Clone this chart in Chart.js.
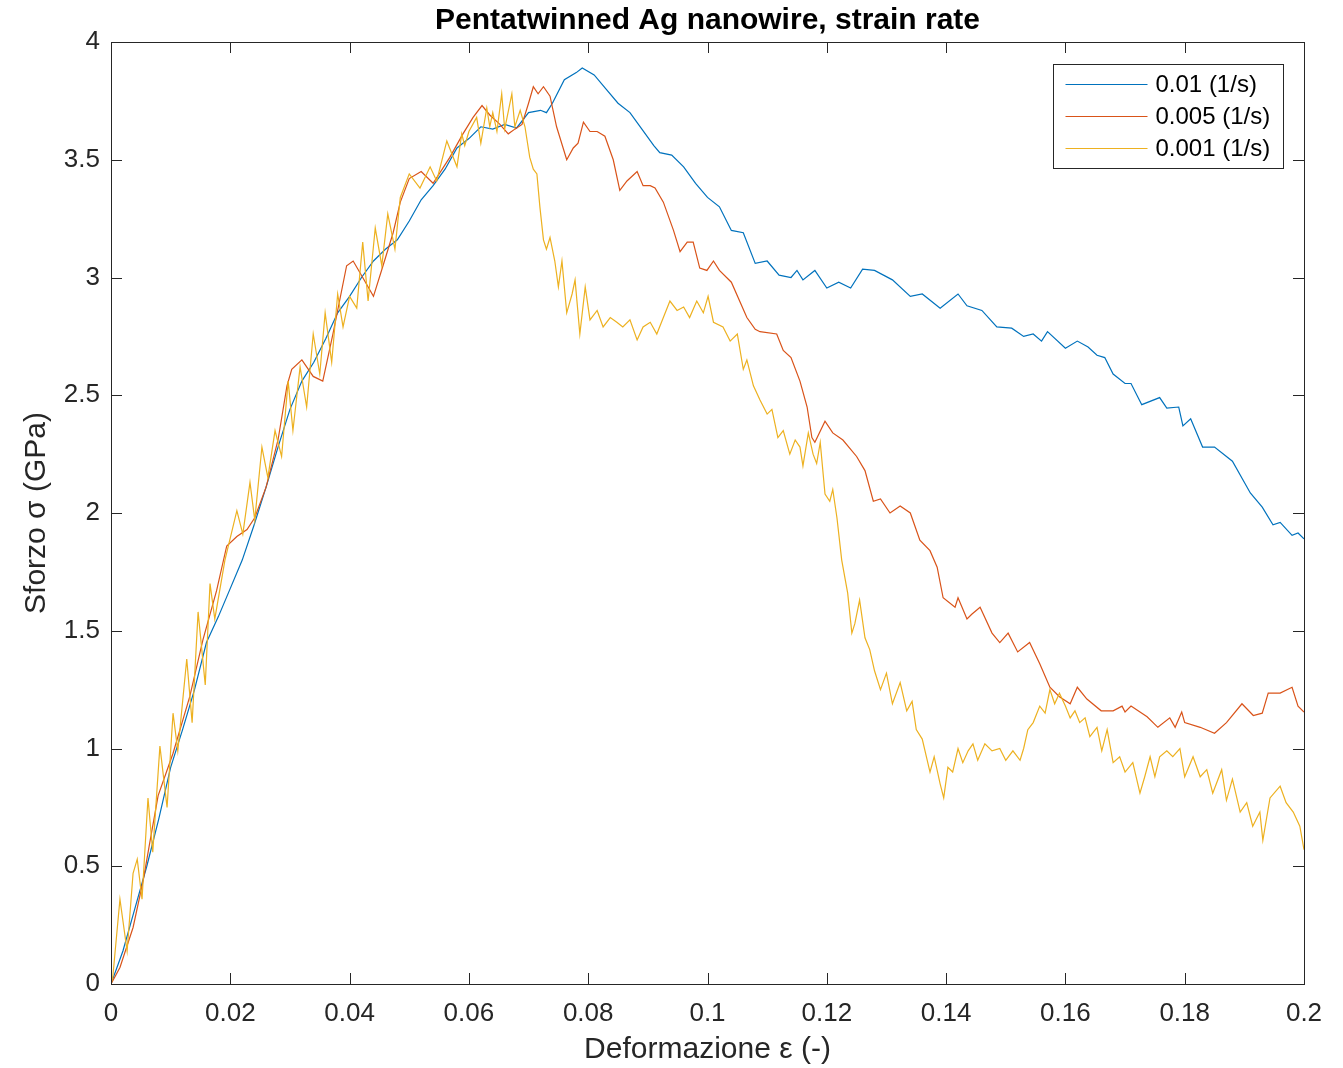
<!DOCTYPE html>
<html>
<head>
<meta charset="utf-8">
<title>Pentatwinned Ag nanowire, strain rate</title>
<script src="https://cdn.jsdelivr.net/npm/chart.js@4.4.1/dist/chart.umd.min.js"></script>
<style>
  html, body { margin: 0; padding: 0; background: #fff; }
</style>
</head>
<body>
<canvas id="stressChart" width="1343" height="1068"></canvas>
<script>
// curve 0.01 (1/s)
const strainFast = [0,0.002,0.004,0.006,0.008,0.010,0.012,0.014,0.016,0.018,
  0.020,0.022,0.024,0.026,0.028,0.030,0.032,0.034,0.036,0.038,
  0.040,0.042,0.044,0.046,0.048,0.050,0.052,0.054,0.056,0.058,
  0.060,0.062,0.064,0.066,0.068,0.070,0.072,0.073,0.074,0.076,
  0.078,0.079,0.081,0.083,0.085,0.087,0.089,0.091,0.092,0.094,
  0.096,0.098,0.100,0.102,0.104,0.106,0.108,0.110,0.112,0.114,
  0.115,0.116,0.118,0.120,0.122,0.124,0.126,0.128,0.131,0.134,
  0.136,0.139,0.142,0.1435,0.146,0.1485,0.151,0.153,0.1546,0.156,
  0.157,0.160,0.162,0.1638,0.1653,0.1666,0.168,0.170,0.171,0.1728,
  0.1758,0.177,0.179,0.1797,0.181,0.183,0.185,0.188,0.191,0.193,
  0.1948,0.196,0.198,0.199,0.200];
const stressFast = [0,0.14,0.32,0.50,0.70,0.92,1.08,1.25,1.45,1.56,
  1.68,1.80,1.95,2.11,2.28,2.44,2.56,2.64,2.74,2.85,
  2.92,3.00,3.07,3.12,3.16,3.24,3.33,3.39,3.46,3.55,
  3.59,3.64,3.63,3.65,3.635,3.70,3.71,3.70,3.74,3.84,
  3.87,3.89,3.86,3.80,3.74,3.70,3.63,3.56,3.53,3.52,
  3.47,3.40,3.34,3.30,3.20,3.19,3.06,3.07,3.01,3.00,
  3.03,2.99,3.03,2.955,2.98,2.955,3.035,3.03,2.99,2.92,
  2.93,2.87,2.93,2.88,2.86,2.79,2.785,2.75,2.76,2.73,
  2.77,2.70,2.73,2.705,2.67,2.66,2.59,2.55,2.55,2.46,
  2.49,2.445,2.45,2.37,2.40,2.28,2.28,2.22,2.085,2.025,
  1.95,1.96,1.905,1.915,1.89];

// curve 0.005 (1/s)
const strainMid = [0,0.0015,0.0037,0.0054,0.0065,0.0079,0.0104,0.0132,0.0154,0.0177,
  0.0194,0.0211,0.0228,0.0241,0.026,0.028,0.0295,0.0303,0.032,0.0339,
  0.0355,0.0372,0.0395,0.0406,0.0422,0.044,0.0456,0.0473,0.0485,0.050,
  0.052,0.054,0.0568,0.059,0.0607,0.0622,0.0635,0.0652,0.0666,0.0677,
  0.0689,0.070,0.0708,0.0716,0.0725,0.0736,0.0747,0.0764,0.0775,0.0783,
  0.0792,0.0803,0.0815,0.0828,0.0842,0.0853,0.0865,0.0882,0.0892,0.0904,
  0.0912,0.0926,0.0943,0.0954,0.0966,0.0976,0.0987,0.0999,0.101,0.102,
  0.104,0.1066,0.108,0.1088,0.1116,0.1127,0.114,0.1155,0.1167,0.1175,
  0.118,0.1197,0.121,0.1227,0.125,0.1264,0.1278,0.129,0.1306,0.1323,
  0.134,0.1356,0.1373,0.1385,0.1395,0.1415,0.142,0.1435,0.1443,0.1457,
  0.1477,0.149,0.1504,0.152,0.154,0.1557,0.1574,0.159,0.1608,0.162,
  0.1636,0.166,0.168,0.1695,0.170,0.171,0.1737,0.1755,0.1775,0.1784,
  0.1795,0.180,0.1826,0.185,0.187,0.1896,0.1915,0.193,0.194,0.196,
  0.198,0.199,0.2];
const stressMid = [0,0.07,0.24,0.44,0.60,0.80,0.98,1.22,1.46,1.67,
  1.86,1.90,1.93,1.98,2.11,2.31,2.54,2.61,2.65,2.58,
  2.56,2.76,3.05,3.07,3.00,2.92,3.05,3.19,3.32,3.42,
  3.45,3.40,3.51,3.61,3.68,3.73,3.69,3.65,3.61,3.63,
  3.65,3.74,3.81,3.78,3.81,3.77,3.64,3.50,3.55,3.57,
  3.66,3.62,3.62,3.60,3.50,3.37,3.41,3.45,3.39,3.39,
  3.38,3.32,3.20,3.11,3.15,3.15,3.04,3.03,3.07,3.03,
  2.98,2.83,2.78,2.77,2.76,2.69,2.66,2.56,2.45,2.32,
  2.30,2.39,2.34,2.31,2.24,2.18,2.05,2.06,2.00,2.03,
  2.00,1.885,1.84,1.77,1.64,1.60,1.64,1.55,1.57,1.60,
  1.49,1.45,1.49,1.41,1.45,1.36,1.26,1.22,1.19,1.26,
  1.21,1.16,1.16,1.18,1.155,1.18,1.135,1.09,1.13,1.09,
  1.155,1.11,1.09,1.065,1.11,1.19,1.14,1.15,1.235,1.235,
  1.26,1.18,1.155];

// curve 0.001 (1/s)
const strainSlow = [0,0.0003,0.0015,0.0027,0.0037,0.0044,0.0052,0.0062,0.007,0.0082,
  0.0094,0.0104,0.0112,0.0127,0.0136,0.0146,0.0158,0.0166,0.0174,0.0191,
  0.0211,0.0221,0.0233,0.0241,0.0253,0.0263,0.0275,0.0286,0.0297,0.0305,
  0.0317,0.0328,0.0339,0.035,0.0359,0.037,0.038,0.0389,0.040,0.0412,
  0.0422,0.0431,0.0443,0.0454,0.0464,0.0476,0.0485,0.050,0.0518,0.0535,
  0.0546,0.0563,0.058,0.0588,0.0593,0.060,0.0613,0.062,0.063,0.0635,
  0.064,0.0647,0.0655,0.066,0.0672,0.0677,0.0686,0.0694,0.0702,0.0708,
  0.0714,0.0719,0.0725,0.073,0.0736,0.0744,0.075,0.0756,0.0764,0.0773,
  0.0778,0.0786,0.0795,0.0803,0.0815,0.0825,0.0837,0.0848,0.0858,0.087,
  0.0882,0.0892,0.0904,0.0915,0.0926,0.0937,0.0949,0.096,0.097,0.0982,
  0.0993,0.1001,0.101,0.1026,0.1038,0.105,0.106,0.1066,0.1077,0.1088,
  0.11,0.1108,0.1118,0.1127,0.1138,0.1147,0.1155,0.116,0.1169,0.1177,
  0.1183,0.1189,0.1197,0.1205,0.121,0.1217,0.1225,0.1235,0.1242,0.1247,
  0.1255,0.1264,0.1272,0.128,0.129,0.130,0.131,0.1323,0.1334,0.1343,
  0.135,0.136,0.1373,0.138,0.139,0.1396,0.1403,0.1411,0.142,0.1428,
  0.1437,0.1445,0.1453,0.1465,0.1477,0.149,0.150,0.1512,0.1524,0.153,
  0.1537,0.1546,0.1557,0.1566,0.1574,0.1582,0.159,0.16,0.1608,0.1616,
  0.1624,0.1633,0.1641,0.1653,0.1661,0.167,0.168,0.1691,0.170,0.1713,
  0.1725,0.1733,0.1742,0.175,0.1758,0.177,0.178,0.1792,0.180,0.1814,
  0.1826,0.1837,0.1847,0.1862,0.187,0.188,0.1893,0.1904,0.1914,0.1926,
  0.1931,0.1943,0.196,0.197,0.1982,0.1993,0.2];
const stressSlow = [0,0.03,0.36,0.14,0.47,0.53,0.36,0.79,0.56,1.01,
  0.75,1.15,0.99,1.38,1.11,1.58,1.27,1.70,1.55,1.80,
  2.01,1.91,2.13,1.97,2.28,2.15,2.35,2.24,2.56,2.35,
  2.62,2.45,2.76,2.59,2.85,2.64,2.93,2.79,2.92,2.87,
  3.15,2.90,3.21,3.05,3.27,3.12,3.34,3.44,3.38,3.47,
  3.41,3.58,3.47,3.61,3.56,3.62,3.68,3.57,3.72,3.64,
  3.70,3.62,3.78,3.63,3.78,3.64,3.71,3.64,3.51,3.46,
  3.44,3.30,3.16,3.12,3.17,3.07,2.96,3.07,2.85,2.93,
  2.99,2.76,2.96,2.82,2.86,2.79,2.83,2.81,2.79,2.82,
  2.735,2.79,2.81,2.76,2.83,2.90,2.86,2.875,2.83,2.90,
  2.85,2.92,2.81,2.79,2.73,2.76,2.61,2.65,2.54,2.48,
  2.42,2.44,2.32,2.35,2.25,2.31,2.28,2.20,2.34,2.25,
  2.21,2.30,2.08,2.05,2.10,1.98,1.80,1.66,1.49,1.53,
  1.63,1.47,1.42,1.33,1.25,1.32,1.19,1.28,1.16,1.20,
  1.08,1.04,0.90,0.965,0.85,0.79,0.92,0.90,1.00,0.94,
  0.99,1.02,0.95,1.02,0.99,1.00,0.95,0.99,0.95,1.00,
  1.08,1.11,1.18,1.15,1.25,1.19,1.235,1.18,1.13,1.16,
  1.11,1.13,1.05,1.09,0.99,1.08,0.94,0.965,0.90,0.94,
  0.81,0.88,0.965,0.88,0.965,0.99,0.965,1.00,0.88,0.965,
  0.88,0.91,0.81,0.91,0.78,0.87,0.73,0.77,0.67,0.73,
  0.61,0.79,0.84,0.77,0.73,0.67,0.57];

const chartTitle = 'Pentatwinned Ag nanowire, strain rate';
const rateLabels = ['0.01 (1/s)', '0.005 (1/s)', '0.001 (1/s)'];
const strainTicks = ['0','0.02','0.04','0.06','0.08','0.1','0.12','0.14','0.16','0.18','0.2'];
const stressTicks = ['0','0.5','1','1.5','2','2.5','3','3.5','4'];

const AXIS_COLOR = '#262626';
const FONT = '"Liberation Sans", Arial, Helvetica, sans-serif';
Chart.defaults.font.family = FONT;
Chart.defaults.color = AXIS_COLOR;

function toPoints(xs, ys) {
    return xs.map((x, i) => ({ x: x, y: ys[i] }));
}

// title over the axes, box around them, inward ticks on all four sides, legend box
const matlabFrame = {
    id: 'matlabFrame',
    afterDatasetsDraw(chart) {
        const { ctx, chartArea: a, scales } = chart;
        const tl = 11;
        ctx.save();

        ctx.fillStyle = '#000';
        ctx.font = 'bold 30px ' + FONT;
        ctx.textAlign = 'center';
        ctx.textBaseline = 'middle';
        ctx.fillText(chartTitle, (a.left + a.right) / 2, a.top - 21);

        ctx.strokeStyle = AXIS_COLOR;
        ctx.lineWidth = 1;
        ctx.strokeRect(Math.round(a.left) + 0.5, Math.round(a.top) + 0.5,
            Math.round(a.right - a.left), Math.round(a.bottom - a.top));
        ctx.beginPath();
        scales.x.ticks.forEach(t => {
            const px = Math.round(scales.x.getPixelForValue(t.value)) + 0.5;
            ctx.moveTo(px, a.bottom); ctx.lineTo(px, a.bottom - tl);
            ctx.moveTo(px, a.top); ctx.lineTo(px, a.top + tl);
        });
        scales.y.ticks.forEach(t => {
            const py = Math.round(scales.y.getPixelForValue(t.value)) + 0.5;
            ctx.moveTo(a.left, py); ctx.lineTo(a.left + tl, py);
            ctx.moveTo(a.right, py); ctx.lineTo(a.right - tl, py);
        });
        ctx.stroke();

        // legend
        const bx = Math.round(a.right - 251) + 0.5;
        const by = Math.round(a.top + 22) + 0.5;
        ctx.fillStyle = '#fff';
        ctx.fillRect(bx, by, 230, 104);
        ctx.strokeRect(bx, by, 230, 104);
        ctx.font = '24px ' + FONT;
        ctx.textAlign = 'left';
        ctx.textBaseline = 'middle';
        chart.data.datasets.forEach((ds, i) => {
            const ly = by + 20 + i * 32;
            ctx.strokeStyle = ds.borderColor;
            ctx.lineWidth = 1.2;
            ctx.beginPath();
            ctx.moveTo(bx + 12, ly);
            ctx.lineTo(bx + 94, ly);
            ctx.stroke();
            ctx.fillStyle = '#000';
            ctx.fillText(ds.label, bx + 102, ly + 1);
        });
        ctx.restore();
    }
};

const ctx = document.getElementById('stressChart').getContext('2d');
new Chart(ctx, {
    type: 'scatter',
    data: {
        datasets: [
            { label: rateLabels[0], data: toPoints(strainFast, stressFast), borderColor: '#0072BD', order: 3 },
            { label: rateLabels[1], data: toPoints(strainMid, stressMid), borderColor: '#D95319', order: 2 },
            { label: rateLabels[2], data: toPoints(strainSlow, stressSlow), borderColor: '#EDB120', order: 1 }
        ].map(ds => Object.assign(ds, {
            showLine: true, borderWidth: 1.2, pointRadius: 0, tension: 0, fill: false
        }))
    },
    options: {
        responsive: false,
        animation: false,
        layout: { padding: { left: 0, right: 39, top: 42, bottom: 0 } },
        plugins: {
            legend: { display: false },
            tooltip: { enabled: false },
            title: { display: false }
        },
        scales: {
            x: {
                type: 'linear', min: 0, max: 0.2,
                grid: { display: false, drawTicks: false },
                border: { display: false },
                ticks: {
                    stepSize: 0.02, padding: 14, font: { size: 26 },
                    callback: (v, i) => strainTicks[i]
                },
                title: {
                    display: true, text: 'Deformazione ε (-)',
                    font: { size: 30 }, padding: 0
                },
                afterFit: s => { s.height = 84; }
            },
            y: {
                type: 'linear', min: 0, max: 4,
                grid: { display: false, drawTicks: false },
                border: { display: false },
                ticks: {
                    stepSize: 0.5, padding: 11, font: { size: 26 },
                    callback: (v, i) => stressTicks[i]
                },
                title: {
                    display: true, text: 'Sforzo σ (GPa)',
                    font: { size: 30 }, padding: 19
                },
                afterFit: s => { s.width = 111; }
            }
        }
    },
    plugins: [matlabFrame]
});
</script>
</body>
</html>
